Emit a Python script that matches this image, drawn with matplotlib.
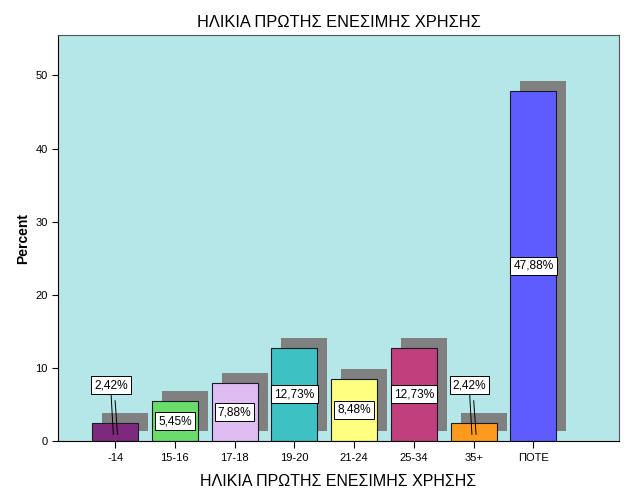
import numpy as np
import matplotlib
matplotlib.use('Agg')
import matplotlib.pyplot as plt
from matplotlib.transforms import offset_copy

plt.rcParams['font.family'] = ['Liberation Sans', 'DejaVu Sans']

categories = ['-14', '15-16', '17-18', '19-20', '21-24', '25-34', '35+', 'ΠΟΤΕ']
percent = [2.42, 5.45, 7.88, 12.73, 8.48, 12.73, 2.42, 47.88]
labels = ['2,42%', '5,45%', '7,88%', '12,73%', '8,48%', '12,73%', '2,42%', '47,88%']
colors = ['#7E2A7C', '#6ADC6A', '#DDBDF2', '#3EC1C1', '#FFFF80', '#C23F7E', '#FF9A1E', '#5C5CFF']

fig = plt.figure(figsize=(6.26, 5.01), dpi=100)
ax = fig.add_axes([0.0927, 0.1198, 0.896, 0.810])
ax.set_facecolor('#B5E6E8')

x = np.arange(len(categories))
w = 0.77

# shadow bars, shifted right/up in pixels
shadow_tr = offset_copy(ax.transData, fig=fig, x=10, y=10, units='dots')
sh = ax.bar(x, percent, width=w, color='#808080', zorder=1)
for p in sh:
    p.set_transform(shadow_tr)

ax.bar(x, percent, width=w, color=colors, edgecolor='#1a1a2a', linewidth=0.8, zorder=2)

box = dict(boxstyle='square,pad=0.25', fc='white', ec='black', lw=0.7)
for i, v in enumerate(percent):
    if v < 4:
        ly = 7.6
        ax.text(i - 0.07, ly, labels[i], ha='center', va='center', fontsize=8.6, bbox=box, zorder=4)
        ax.plot([i - 0.07, i - 0.03], [ly - 0.8, v / 2 - 0.3], color='black', lw=0.7, zorder=3)
        ax.plot([i - 0.0, i + 0.04], [ly - 2.1, v / 2 - 0.3], color='black', lw=0.7, zorder=3)
    else:
        ax.text(i, v / 2, labels[i], ha='center', va='center', fontsize=8.6, bbox=box, zorder=4)

ax.set_xlim(-0.955, 8.43)
ax.set_ylim(0, 55.5)
ax.set_xticks(x)
ax.set_xticklabels(categories, fontsize=8)
ax.set_yticks([0, 10, 20, 30, 40, 50])
ax.tick_params(axis='y', labelsize=8, length=4)
ax.tick_params(axis='x', length=5)
for s in ['top', 'right']:
    ax.spines[s].set_color('#555555')
    ax.spines[s].set_linewidth(0.8)

ax.set_ylabel('Percent', fontsize=10, fontweight='bold')
ax.set_xlabel('ΗΛΙΚΙΑ ΠΡΩΤΗΣ ΕΝΕΣΙΜΗΣ ΧΡΗΣΗΣ', fontsize=11.5, labelpad=8)
ax.set_title('ΗΛΙΚΙΑ ΠΡΩΤΗΣ ΕΝΕΣΙΜΗΣ ΧΡΗΣΗΣ', fontsize=11.8, pad=6)

fig.savefig('out.png', dpi=100)
